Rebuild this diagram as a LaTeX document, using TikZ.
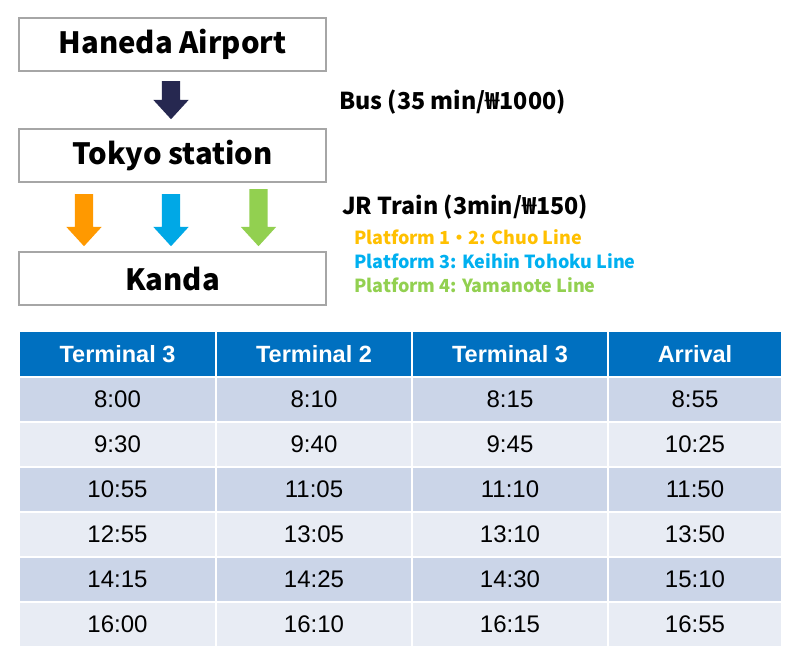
\documentclass[tikz,border=0pt]{standalone}
\usepackage{fontspec}
\newfontfamily\krfont{Noto Sans CJK KR}
\newfontfamily\arialfont{Liberation Sans}
\usepackage{tikz}
\usetikzlibrary{positioning,shapes.arrows}
\usepackage{xcolor}
\definecolor{boxgray}{HTML}{A6A6A6}
\definecolor{busnavy}{HTML}{262850}
\definecolor{chuo}{HTML}{FF9900}
\definecolor{keihin}{HTML}{00A8E6}
\definecolor{yamanote}{HTML}{92D050}
\definecolor{chuotxt}{HTML}{FFC000}
\definecolor{keihintxt}{HTML}{00B0F0}
\definecolor{hdrblue}{HTML}{0070C0}
\definecolor{rowdark}{HTML}{CBD5E8}
\definecolor{rowlight}{HTML}{E8ECF4}

\begin{document}
\begin{tikzpicture}[x=1pt,y=-1pt,
    station/.style={rectangle,draw=boxgray,line width=1.5pt,minimum width=307pt,minimum height=53pt,font=\krfont\bfseries\fontsize{29.3}{31}\selectfont},
    blockarrow/.style={single arrow,rotate=-90,anchor=tail,inner xsep=0pt,inner ysep=9pt,single arrow head extend=8.5pt,single arrow tip angle=85},
    info/.style={anchor=west,inner sep=0pt,font=\krfont\bfseries\fontsize{23.3}{25}\selectfont},
    platform/.style={anchor=west,inner sep=0pt,font=\krfont\bfseries\fontsize{18}{20}\selectfont},
    cell/.style={rectangle,inner sep=0pt,minimum height=43pt,font=\arialfont\fontsize{24}{26}\selectfont},
    head/.style={cell,fill=hdrblue,minimum height=44pt,text=white,font=\arialfont\bfseries\fontsize{23.5}{26}\selectfont}]

\fill[white] (0,0) rectangle (801,657);
\useasboundingbox (0,0) rectangle (801,657);

% Gares
\node[station] (hnd) at (172.5,44.5) {Haneda Airport};
\node[station] (tky) at (172.5,155.5) {Tokyo station};
\node[station] (kanda) at (172.5,278.5) {Kanda};

% Fleches
\node[blockarrow,fill=busnavy,minimum height=38pt] (bus) at (171,81) {};
\node[blockarrow,fill=chuo,minimum height=52pt] (jr1) at (84,194) {};
\node[blockarrow,fill=keihin,minimum height=52pt] (jr2) at (171,194) {};
\node[blockarrow,fill=yamanote,minimum height=57pt] (jr3) at (258.5,189) {};

% Textes
\node[info] (bustxt) at (339,102) {Bus (35 min/₩1000)};
\node[info] (jrtxt) at (342,207) {JR Train (3min/₩150)};
\node[platform,text=chuotxt] (pf1) at (354,237.5) {Platform 1・2: Chuo Line};
\node[platform,text=keihintxt] (pf3) at (354,261) {Platform 3: Keihin Tohoku Line};
\node[platform,text=yamanote] (pf4) at (354,285.5) {Platform 4: Yamanote Line};

% En-tete du tableau
\foreach \x/\w/\lbl [count=\c] in {117.5/195/Terminal 3,314/194/Terminal 2,510/194/Terminal 3,695/172/Arrival}
    \node[head,minimum width=\w pt] (h\c) at (\x,354) {\lbl};

% Horaires
\foreach \ta/\tb/\tc/\td [count=\r] in {8:00/8:10/8:15/8:55,9:30/9:40/9:45/10:25,10:55/11:05/11:10/11:50,12:55/13:05/13:10/13:50,14:15/14:25/14:30/15:10,16:00/16:10/16:15/16:55} {
    \pgfmathsetmacro{\y}{378+(\r-1)*45+21.5}
    \ifodd\r \def\rowcol{rowdark}\else \def\rowcol{rowlight}\fi
    \node[cell,fill=\rowcol,minimum width=195pt] (r\r c1) at (117.5,\y) {\ta};
    \node[cell,fill=\rowcol,minimum width=194pt] (r\r c2) at (314,\y) {\tb};
    \node[cell,fill=\rowcol,minimum width=194pt] (r\r c3) at (510,\y) {\tc};
    \node[cell,fill=\rowcol,minimum width=172pt] (r\r c4) at (695,\y) {\td};
}

\end{tikzpicture}
\end{document}
